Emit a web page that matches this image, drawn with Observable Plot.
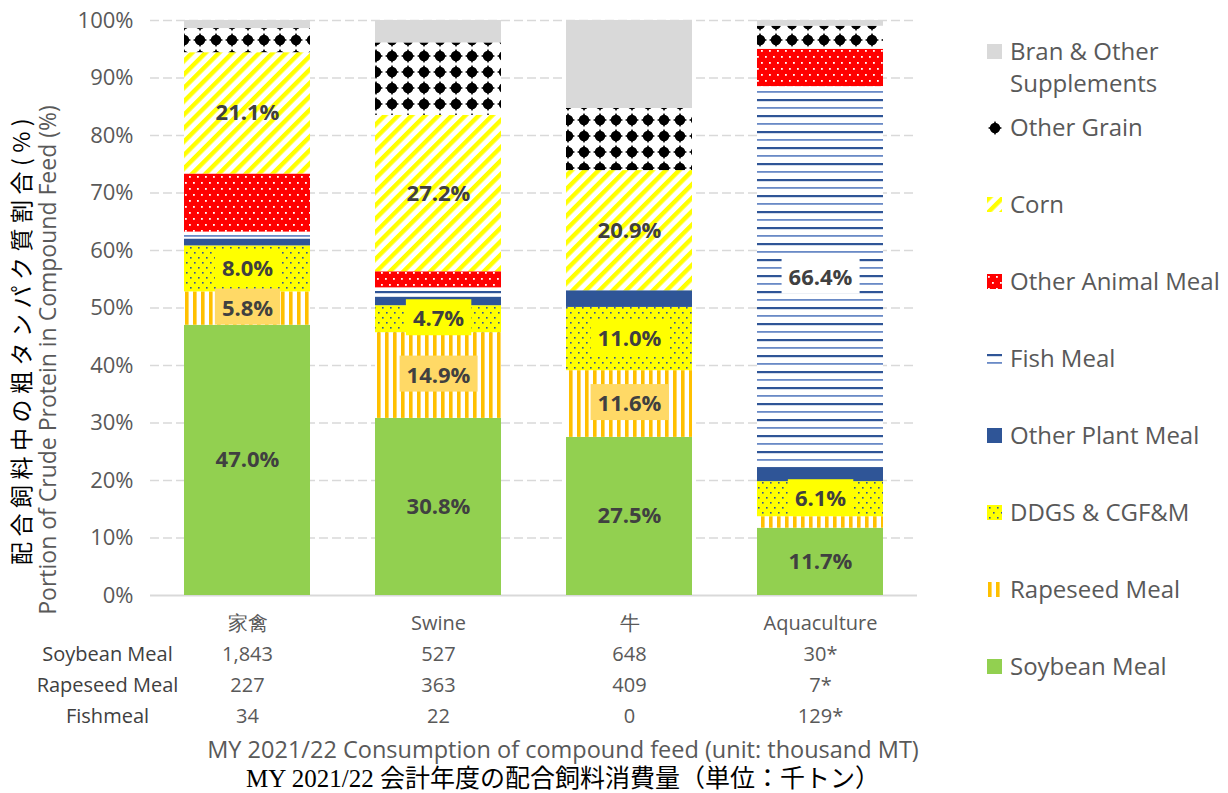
<!DOCTYPE html>
<html>
<head>
<meta charset="utf-8">
<script src="https://cdn.jsdelivr.net/npm/d3@7"></script>
<script src="https://cdn.jsdelivr.net/npm/@observablehq/plot@0.6"></script>
<style>
  body { margin: 0; background: #fff; }
  #wrap { position: relative; width: 1228px; height: 793px; font-family: "Open Sans", sans-serif; overflow: hidden; }
  .abs { position: absolute; white-space: nowrap; line-height: 1.15; }
  .rot { transform: translate(-50%, -50%) rotate(-90deg); }
  .cap { transform: translate(-50%, -50%); }
  .leg { position: absolute; left: 987px; display: flex; align-items: flex-start; font-size: 24px; color: #595959; line-height: 32px; }
  .leg svg { margin-top: 9px; margin-right: 8px; flex: none; }
</style>
</head>
<body>
<div id="wrap"></div>
<script>
// ---- data ----
const animals = ["家禽", "Swine", "牛", "Aquaculture"];
const series = ["Soybean Meal", "Rapeseed Meal", "DDGS & CGF&M", "Other Plant Meal", "Fish Meal", "Other Animal Meal", "Corn", "Other Grain", "Bran & Other Supplements"];
const soybeanMeal     = [47.0, 30.8, 27.5, 11.7];
const rapeseedMeal    = [5.8, 14.9, 11.6, 2.0];
const ddgsCgf         = [8.0, 4.7, 11.0, 6.1];
const otherPlantMeal  = [1.2, 1.5, 2.9, 2.3];
const fishMeal        = [1.2, 1.6, 0.0, 66.4];
const otherAnimalMeal = [10.1, 2.8, 0.0, 6.5];
const corn            = [21.1, 27.2, 20.9, 0.0];
const otherGrain      = [4.2, 12.6, 10.8, 4.0];
const branOther       = [1.4, 3.9, 15.3, 1.0];
const labelledSeries  = ["Soybean Meal", "Rapeseed Meal", "DDGS & CGF&M", "Fish Meal", "Corn"];
const tableRowNames   = ["Soybean Meal", "Rapeseed Meal", "Fishmeal"];
const soyConsumption  = ["1,843", "527", "648", "30*"];
const rapeConsumption = ["227", "363", "409", "7*"];
const fishConsumption = ["34", "22", "0", "129*"];
const yTicks = [0, 10, 20, 30, 40, 50, 60, 70, 80, 90, 100];
const yTitleJa = "配合飼料中の粗タンパク質割合(%)";
const yTitleEn = "Portion of Crude Protein in Compound Feed (%)";
const captionEn = "MY 2021/22 Consumption of compound feed (unit: thousand MT)";
const captionJa = "MY 2021/22 会計年度の配合飼料消費量（単位：千トン）";

const seriesValues = [soybeanMeal, rapeseedMeal, ddgsCgf, otherPlantMeal, fishMeal, otherAnimalMeal, corn, otherGrain, branOther];
const fills = ["#92d050", "url(#p-rape)", "url(#p-ddgs)", "#2f5597", "url(#p-fish)", "url(#p-animal)", "url(#p-corn)", "url(#p-grain)", "#d9d9d9"];
const table = series.flatMap((s, i) => animals.map((a, j) => ({animal: a, series: s, value: seriesValues[i][j]})));
const consumption = [soyConsumption, rapeConsumption, fishConsumption];

const fmt = d => (labelledSeries.includes(d.series) && d.value >= 3) ? d.value.toFixed(1) + "%" : null;
const labelMark = (pred) => Plot.text(table, Plot.stackY({
  x: "animal", y: "value",
  text: d => pred(d) ? fmt(d) : null,
  fontWeight: "bold", fontSize: 22, fill: "#404040"
}));

const chart = Plot.plot({
  width: 1228, height: 793,
  marginLeft: 150, marginRight: 311, marginTop: 20, marginBottom: 198,
  style: {fontFamily: "'Open Sans', sans-serif", color: "#595959", background: "transparent", overflow: "visible"},
  x: {domain: animals, paddingInner: 0.338, paddingOuter: 0.169, label: null},
  y: {domain: [0, 100], label: null},
  color: {domain: series, range: fills},
  marks: [
    Plot.gridY(yTicks.slice(1), {stroke: "#d9d9d9", strokeOpacity: 1, strokeWidth: 1.5, strokeDasharray: "9,4"}),
    Plot.ruleY([0], {stroke: "#d9d9d9", strokeWidth: 2}),
    Plot.barY(table, {x: "animal", y: "value", fill: "series"}),
    labelMark(d => d.series === "Rapeseed Meal"),
    labelMark(d => d.series === "DDGS & CGF&M"),
    labelMark(d => d.series === "Fish Meal"),
    labelMark(d => d.series === "Soybean Meal" || d.series === "Corn"),
    Plot.axisY({ticks: yTicks, tickFormat: d => d + "%", tickSize: 0, tickPadding: 17, fontSize: 22, label: null}),
    Plot.axisX({
      tickSize: 0, tickPadding: 12, fontSize: 20, lineHeight: 1.55, label: null,
      tickFormat: d => { const j = animals.indexOf(d); return [d, ...consumption.map(r => r[j])].join("\n"); }
    }),
    Plot.text([tableRowNames.join("\n")], {frameAnchor: "bottom-left", dx: -43, dy: 43, lineAnchor: "top", lineHeight: 1.55, fontSize: 20, textAnchor: "middle", fill: "#404040"})
  ]
});

const wrap = document.getElementById("wrap");
wrap.appendChild(chart);

// ---- patterns ----
const defs = d3.select(chart).insert("defs", ":first-child");
function pat(id, w, h, extra) {
  const p = defs.append("pattern").attr("id", id).attr("patternUnits", "userSpaceOnUse").attr("width", w).attr("height", h);
  if (extra) p.attr("patternTransform", extra);
  return p;
}
let p = pat("p-corn", 9.5, 9.5, "rotate(45)");
p.append("rect").attr("width", 9.5).attr("height", 9.5).attr("fill", "#fff");
p.append("rect").attr("width", 4.4).attr("height", 9.5).attr("fill", "#ffff00");

p = pat("p-rape", 8, 8);
p.append("rect").attr("width", 8).attr("height", 8).attr("fill", "#fff");
p.append("rect").attr("x", 1).attr("width", 3.6).attr("height", 8).attr("fill", "#ffc000");

p = pat("p-fish", 16, 16);
p.append("rect").attr("width", 16).attr("height", 16).attr("fill", "#fff");
p.append("rect").attr("y", 3).attr("width", 16).attr("height", 2.2).attr("fill", "#2f5597");
p.append("rect").attr("y", 11).attr("width", 16).attr("height", 1.8).attr("fill", "#6a8ac6");

p = pat("p-animal", 8, 12);
p.append("rect").attr("width", 8).attr("height", 12).attr("fill", "#ff0000");
p.append("rect").attr("x", 1).attr("y", 2).attr("width", 1.8).attr("height", 1.8).attr("fill", "#fff");
p.append("rect").attr("x", 5).attr("y", 8).attr("width", 1.8).attr("height", 1.8).attr("fill", "#fff");

p = pat("p-ddgs", 8, 10);
p.append("rect").attr("width", 8).attr("height", 10).attr("fill", "#ffff00");
p.append("rect").attr("x", 2).attr("y", 2).attr("width", 1.6).attr("height", 1.6).attr("fill", "#2f5597");
p.append("rect").attr("x", 6).attr("y", 7).attr("width", 1.6).attr("height", 1.6).attr("fill", "#2f5597");

p = pat("p-grain", 16, 16);
p.append("rect").attr("width", 16).attr("height", 16).attr("fill", "#fff");
p.append("circle").attr("cx", 8).attr("cy", 8).attr("r", 5.2).attr("fill", "#000");
p.append("path").attr("d", "M8,0.8 L10.3,5.7 L15.2,8 L10.3,10.3 L8,15.2 L5.7,10.3 L0.8,8 L5.7,5.7 Z").attr("fill", "#000");

// ---- label backgrounds (behind text of the first three label marks) ----
const bgColors = ["#ffd966", "#ffff00", "#ffffff"];
const textGroups = chart.querySelectorAll('g[aria-label="text"]');
bgColors.forEach((color, k) => {
  const g = textGroups[k];
  if (!g) return;
  g.querySelectorAll("text").forEach(t => {
    const b = t.getBBox();
    const cy = b.y + b.height / 2;
    const r = document.createElementNS("http://www.w3.org/2000/svg", "rect");
    r.setAttribute("x", b.x - 7);
    r.setAttribute("y", cy - 18);
    r.setAttribute("width", b.width + 14);
    r.setAttribute("height", 36);
    r.setAttribute("fill", color);
    const tr = t.getAttribute("transform");
    if (tr) r.setAttribute("transform", tr);
    t.parentNode.insertBefore(r, t);
  });
});

// ---- overlays: y titles, captions, legend ----
function addDiv(text, cls, style) {
  const d = document.createElement("div");
  d.className = "abs " + cls;
  d.textContent = text;
  Object.assign(d.style, style);
  wrap.appendChild(d);
  return d;
}
addDiv(yTitleJa, "rot", {left: "20px", top: "339px", fontSize: "23px", letterSpacing: "5.5px", color: "#000", fontFamily: "'Noto Sans CJK JP', sans-serif"});
addDiv(yTitleEn, "rot", {left: "47px", top: "360px", fontSize: "23px", color: "#595959"});
addDiv(captionEn, "cap", {left: "563px", top: "750px", fontSize: "23.5px", color: "#595959"});
addDiv(captionJa, "cap", {left: "563px", top: "779px", fontSize: "25px", color: "#000", fontFamily: "'Liberation Serif', 'Noto Sans CJK JP', serif"});

const legendOrder = series.map((s, i) => ({s, fill: fills[i]})).reverse();
const legendTops = [51, 127, 204, 281, 358, 435, 512, 589, 666];
legendOrder.forEach((item, k) => {
  const d = document.createElement("div");
  d.className = "leg";
  d.style.top = (legendTops[k] - 16) + "px";
  const label = item.s === "Bran & Other Supplements" ? "Bran &amp; Other<br>Supplements" : item.s.replace(/&/g, "&amp;");
  d.innerHTML = `<svg width="15" height="15"><rect width="15" height="15" fill="${item.fill}"/></svg><span>${label}</span>`;
  wrap.appendChild(d);
});
</script>
</body>
</html>
